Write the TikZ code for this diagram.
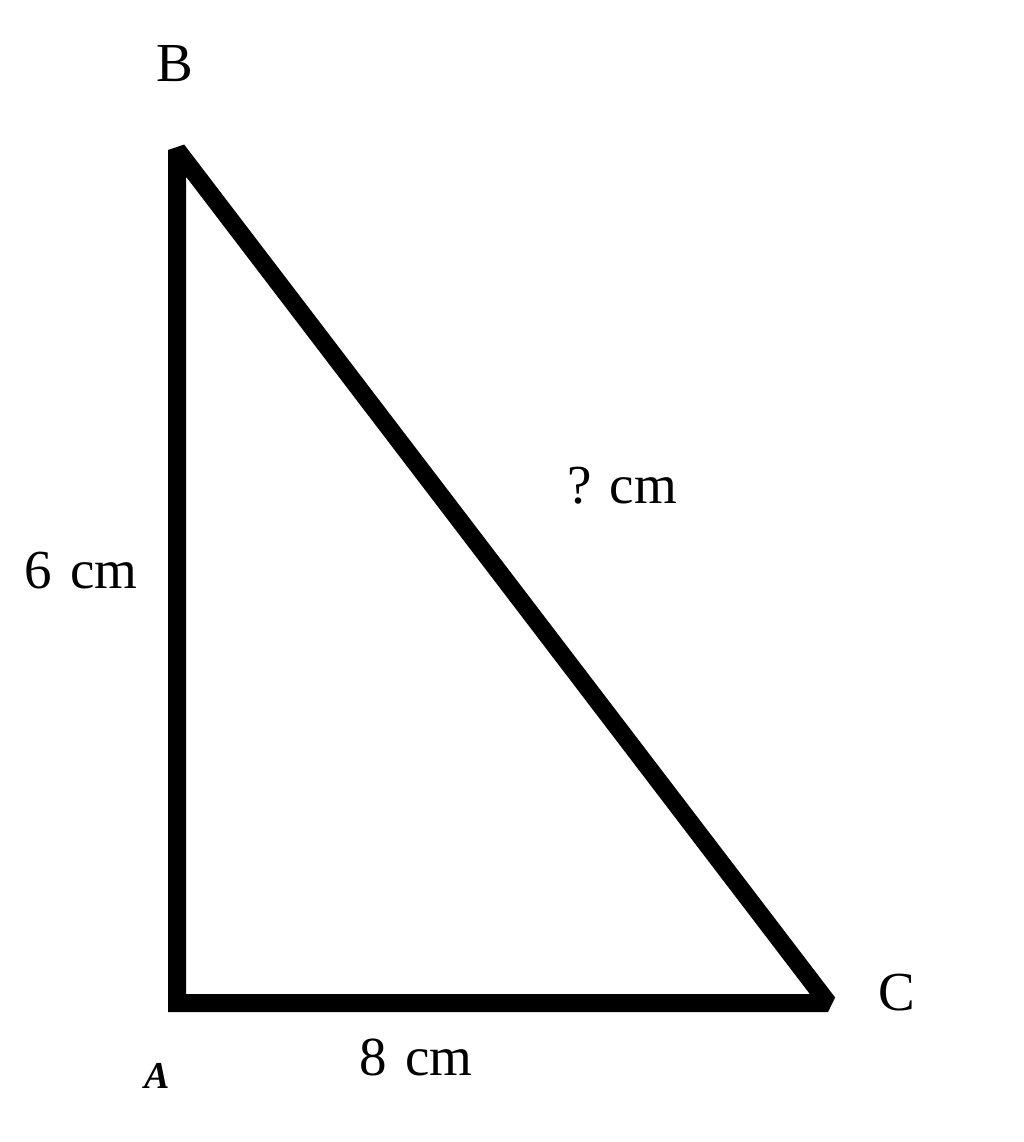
\documentclass[tikz,border=0pt]{standalone}
\usepackage{fontspec}
\setmainfont{Liberation Serif}
\begin{document}
\begin{tikzpicture}[x=1pt,y=-1pt,
  side/.style={line width=18pt,line join=miter,miter limit=1.6,line cap=butt},
  lbl/.style={anchor=base,inner sep=0pt,font=\fontsize{55}{62}\selectfont},
  albl/.style={anchor=base,inner sep=0pt,font=\fontsize{38}{44}\selectfont\bfseries\itshape}]
\useasboundingbox (0,0) rectangle (1024,1142);
\coordinate (A) at (177,1003);
\coordinate (B) at (177,150);
\coordinate (C) at (828,1003);
\draw[side] (A) -- (B) -- (C) -- cycle;
\node[lbl] (lB) at (175,82) {B};
\node[lbl] (lC) at (897,1010) {C};
\node[albl] (lA) at (157,1088) {A};
\node[lbl] (lAB) at (81,588) {6\,\,cm};
\node[lbl] (lBC) at (622,503) {?\,\,cm};
\node[lbl] (lAC) at (416,1075) {8\,\,cm};
\end{tikzpicture}
\end{document}
